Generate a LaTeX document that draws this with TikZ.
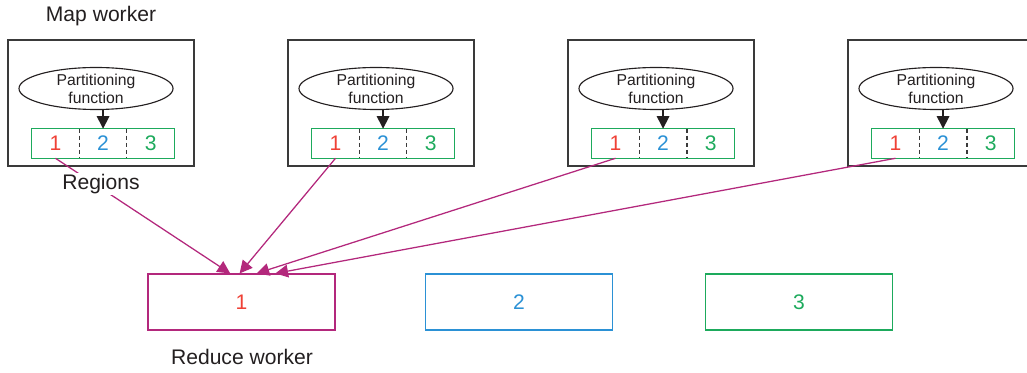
\documentclass[tikz,border=0pt]{standalone}
\usepackage{fontspec}
\setmainfont{Liberation Sans}
\usepackage{tikz}
\usetikzlibrary{arrows.meta,calc,positioning,shapes.geometric}
\definecolor{frame}{HTML}{3A3A3A}
\definecolor{ink}{HTML}{231F20}
\definecolor{regred}{HTML}{EF4136}
\definecolor{regblue}{HTML}{2B91D5}
\definecolor{reggreen}{HTML}{1DAA5C}
\definecolor{link}{HTML}{B3287C}

\begin{document}
\begin{tikzpicture}[x=0.025cm,y=-0.025cm,
  worker/.style={draw=frame,line width=1pt,minimum width=4.65cm,minimum height=3.15cm},
  pfunc/.style={ellipse,draw=ink,line width=0.8pt,minimum width=3.85cm,minimum height=0.95cm,
    inner sep=0pt,align=center,text=ink,font=\fontsize{11.2}{12.9}\selectfont},
  cell/.style={minimum width=1.175cm,minimum height=0.725cm,inner sep=0pt,font=\fontsize{15}{18}\selectfont},
  divider/.style={frame,line width=0.9pt,dash pattern=on 3pt off 2pt},
  reducer/.style={line width=0.8pt,minimum width=4.675cm,minimum height=1.4cm,font=\fontsize{15}{18}\selectfont},
  caption/.style={text=ink,font=\fontsize{15}{18}\selectfont},
  feed/.style={link,line width=0.9pt,-{Triangle[length=9pt,width=9pt]}}]
  \useasboundingbox (0,0) rectangle (1027,373);
  % map workers
  \foreach \i in {0,...,3} {
    \node[worker] (map\i) at (101+280*\i,103) {};
    \node[pfunc] (pf\i) at (96+280*\i,88.5) {Partitioning\\function};
    \node[cell,text=regred] (ca\i) at (55.5+280*\i,143.5) {1};
    \node[cell,text=regblue,right=0pt of ca\i] (cb\i) {2};
    \node[cell,text=reggreen,right=0pt of cb\i] (cc\i) {3};
    \draw[reggreen,line width=0.9pt] (ca\i.north west) rectangle (cc\i.south east);
    \draw[divider] (ca\i.north east) -- (ca\i.south east) (cb\i.north east) -- (cb\i.south east);
    \draw[ink,line width=0.9pt,-{Triangle[length=9pt,width=9pt]}] (pf\i.south -| cb\i.north) -- (cb\i.north);
  }
  \node[caption] (mapcap) at (101,16) {Map worker};
  % reduce workers
  \node[reducer,draw=link,text=regred] (red1) at (241.5,302) {1};
  \node[reducer,draw=regblue,text=regblue] (red2) at (519,302) {2};
  \node[reducer,draw=reggreen,text=reggreen] (red3) at (799,302) {3};
  \node[caption] (redcap) at (242,357) {Reduce worker};
  % region 1 of every map goes to reducer 1
  \foreach \i/\t in {0/0.44,1/0.49,2/0.58,3/0.68}
    \draw[feed] (ca\i.south) -- ($(red1.north west)!\t!(red1.north east)$);
  \node[caption,fill=white,inner sep=1pt] (regcap) at (101,184) {Regions};
\end{tikzpicture}
\end{document}
